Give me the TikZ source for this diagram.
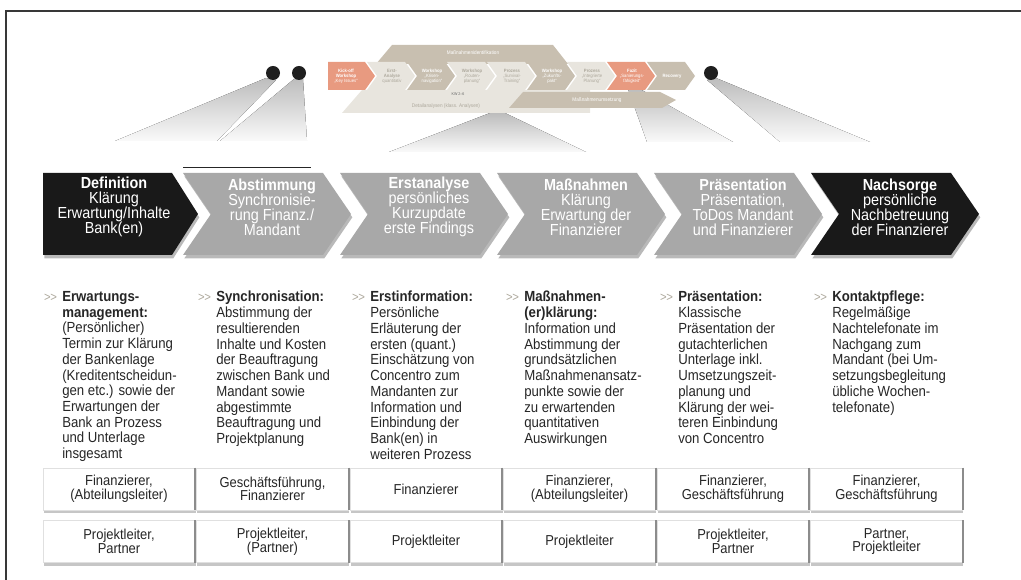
\documentclass[tikz,border=0pt]{standalone}
\usepackage{fontspec}
\setmainfont{Liberation Sans}[FakeStretch=0.9]
\usetikzlibrary{shadows,positioning}

\definecolor{salmon}{HTML}{E89A80}
\definecolor{taupe}{HTML}{C8BFB0}
\definecolor{pale}{HTML}{E8E5DE}
\definecolor{stepgray}{HTML}{A8A8A8}
\definecolor{inkgray}{HTML}{262626}
\definecolor{markgray}{HTML}{ADA89C}

\begin{document}
\begin{tikzpicture}[x=0.75pt, y=-0.75pt,
    frame/.style = {line width=1.5pt, black!78},
    wedge/.style = {top color=black!26, middle color=black!16, bottom color=black!2},
    dot/.style = {circle, fill=black!88, minimum size=10.5pt, inner sep=0pt},
    mini/.style = {font=\fontsize{3.5}{3.8}\selectfont, align=center, inner sep=0pt},
    band/.style = {font=\fontsize{3.9}{4}\selectfont, inner sep=0pt},
    stepshadow/.style = {drop shadow={shadow xshift=1pt, shadow yshift=-2.5pt, opacity=.55}},
    steptext/.style = {align=center, text=white, inner sep=0pt, font=\fontsize{12}{11.3}\selectfont},
    body/.style = {anchor=north west, align=left, inner sep=0pt, text=inkgray, font=\fontsize{11}{11.8}\selectfont},
    rolebox/.style = {fill=white, draw=black!12, minimum width=114pt, minimum height=31.5pt, inner sep=0pt,
        align=center, text=inkgray, font=\fontsize{10.8}{10.2}\selectfont,
        drop shadow={shadow xshift=.5pt, shadow yshift=-2.5pt, opacity=.45}}]
\useasboundingbox (0,0) rectangle (1021,580);

% frame
\draw[frame] (6,580) -- (6,11) -- (1021,11);

% spotlight wedges
\fill[wedge] (266,78) -- (276,80) -- (217,141) -- (115,141) -- cycle;
\fill[wedge] (294,79) -- (303,79) -- (307,141) -- (220,141) -- cycle;
\fill[wedge] (490,113) -- (505,113) -- (586,152) -- (389,152) -- cycle;
\fill[wedge] (628,89) -- (640,89) -- (733,142) -- (647,142) -- cycle;
\fill[wedge] (707,80) -- (716,78) -- (870,142) -- (780,142) -- cycle;

% small process overview
\fill[taupe] (392,45) -- (553,45) -- (568,64) -- (376,64) -- cycle;
\node[band, text=white] (ident) at (473,53) {Maßnahmenidentifikation};
\fill[pale] (362,90) -- (590,90) -- (590,113) -- (342,113) -- cycle;
\node[band, text=markgray] (detail) at (446,106) {Detailanalysen (klass. Analysen)};
\fill[taupe] (523,92) -- (660,92) -- (676,100) -- (662,108) -- (509,108) -- cycle;
\node[band, text=white] (umsetz) at (597,100) {Maßnahmenumsetzung};
\node[band, font=\fontsize{3}{3}\selectfont, text=black!60] (kw) at (458,94) {KW 2–6};

\fill[salmon] (328,62) -- (365,62) -- (375,76) -- (365,90) -- (328,90) -- cycle;
\node[mini, text=white] (m0) at (346,76) {\textbf{Kick-off}\\\textbf{Workshop}\\„Key Issues“};
\foreach \i/\fc/\tc/\txt in {1/pale/markgray/{\textbf{Erst-}\\\textbf{Analyse}\\quantitativ},
    2/taupe/white/{\textbf{Workshop}\\„Krisen-\\navigation“},
    3/pale/markgray/{\textbf{Workshop}\\„Routen-\\planung“},
    4/pale/markgray/{\textbf{Prozess}\\„Survival-\\Training“},
    5/taupe/white/{\textbf{Workshop}\\„Zukunfts-\\pakt“},
    6/pale/markgray/{\textbf{Prozess}\\„Integrierte\\Planung“},
    7/salmon/white/{\textbf{Fazit}\\„Sanierungs-\\fähigkeit“},
    8/taupe/white/{\textbf{Recovery}}}{
  \pgfmathsetmacro{\L}{327+40*\i}
  \fill[\fc] (\L,62) -- ++(38,0) -- ++(10,14) -- ++(-10,14) -- ++(-38,0) -- ++(10,-14) -- cycle;
  \node[mini, text=\tc] (m\i) at (\L+25,76) {\txt};
}

\node[dot] (d1) at (273,73) {};
\node[dot] (d2) at (299,73) {};
\node[dot] (d3) at (711,73) {};

% main phases
\draw[black!85, line width=.6pt] (183,167) -- (311,167);
\fill[black!90, stepshadow] (43,173) -- (172,173) -- (198,214) -- (172,255) -- (43,255) -- cycle;
\node[steptext] (s0) at (114,207) {\textbf{Definition}\\Klärung\\Erwartung/Inhalte\\Bank(en)};
\foreach \i/\fc/\txt in {1/stepgray/{\textbf{Abstimmung}\\Synchronisie-\\rung Finanz./\\Mandant},
    2/stepgray/{\textbf{Erstanalyse}\\persönliches\\Kurzupdate\\erste Findings},
    3/stepgray/{\textbf{Maßnahmen}\\Klärung\\Erwartung der\\Finanzierer},
    4/stepgray/{\textbf{Präsentation}\\Präsentation,\\ToDos Mandant\\und Finanzierer},
    5/black!90/{\textbf{Nachsorge}\\persönliche\\Nachbetreuung\\der Finanzierer}}{
  \pgfmathsetmacro{\L}{26+157*\i}
  \fill[\fc, stepshadow] (\L,173) -- ++(140,0) -- ++(28,41) -- ++(-28,41) -- ++(-140,0) -- ++(28,-41) -- cycle;
  \node[steptext] (s\i) at (\L+89,207) {\txt};
}

% descriptions
\newcommand{\mk}{\llap{\color{markgray}\fontsize{9.5}{9.5}\selectfont>\kern-.3pt>\hspace{4pt}}}
\foreach \i/\txt in {0/{\mk\textbf{Erwartungs-}\\\textbf{management:}\\(Persönlicher)\\Termin zur Klärung\\der Bankenlage\\(Kreditentscheidun-\\gen etc.) sowie der\\Erwartungen der\\Bank an Prozess\\und Unterlage\\insgesamt},
    1/{\mk\textbf{Synchronisation:}\\Abstimmung der\\resultierenden\\Inhalte und Kosten\\der Beauftragung\\zwischen Bank und\\Mandant sowie\\abgestimmte\\Beauftragung und\\Projektplanung},
    2/{\mk\textbf{Erstinformation:}\\Persönliche\\Erläuterung der\\ersten (quant.)\\Einschätzung von\\Concentro zum\\Mandanten zur\\Information und\\Einbindung der\\Bank(en) in\\weiteren Prozess},
    3/{\mk\textbf{Maßnahmen-}\\\textbf{(er)klärung:}\\Information und\\Abstimmung der\\grundsätzlichen\\Maßnahmenansatz-\\punkte sowie der\\zu erwartenden\\quantitativen\\Auswirkungen},
    4/{\mk\textbf{Präsentation:}\\Klassische\\Präsentation der\\gutachterlichen\\Unterlage inkl.\\Umsetzungszeit-\\planung und\\Klärung der wei-\\teren Einbindung\\von Concentro},
    5/{\mk\textbf{Kontaktpflege:}\\Regelmäßige\\Nachtelefonate im\\Nachgang zum\\Mandant (bei Um-\\setzungsbegleitung\\übliche Wochen-\\telefonate)}}{
  \node[body] (t\i) at (62+154*\i,291) {\txt};
}

% roles
\foreach \i/\top/\bot in {0/{Finanzierer,\\(Abteilungsleiter)}/{Projektleiter,\\Partner},
    1/{Geschäftsführung,\\Finanzierer}/{Projektleiter,\\(Partner)},
    2/{Finanzierer}/{Projektleiter},
    3/{Finanzierer,\\(Abteilungsleiter)}/{Projektleiter},
    4/{Finanzierer,\\Geschäftsführung}/{Projektleiter,\\Partner},
    5/{Finanzierer,\\Geschäftsführung}/{Partner,\\Projektleiter}}{
  \node[rolebox] (a\i) at (119+153.5*\i,489) {\top};
  \node[rolebox, below=7.5pt of a\i] (b\i) {\bot};
  \draw[black!45, line width=1.4pt] (a\i.north east) -- (a\i.south east);
  \draw[black!45, line width=1.4pt] (b\i.north east) -- (b\i.south east);
}
\end{tikzpicture}
\end{document}
